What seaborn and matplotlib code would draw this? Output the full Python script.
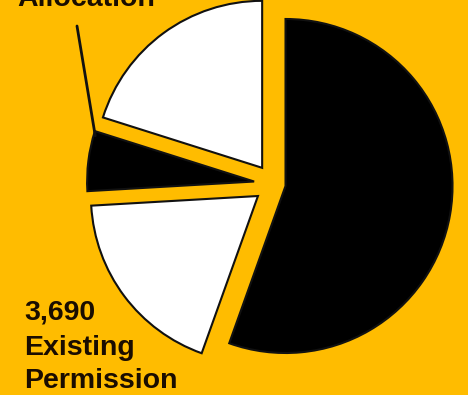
import matplotlib
matplotlib.use("Agg")
import matplotlib.pyplot as plt
import seaborn as sns
import numpy as np

# ---- data ----
categories = ["Large share", "Existing Permission", "Allocation", "Other"]
values = [11000, 3690, 1150, 3990]
slice_colors = ["#000000", "#FFFFFF", "#000000", "#FFFFFF"]
explode = [0.07, 0.12, 0.12, 0.12]
label_existing = ["3,690", "Existing", "Permission"]
label_allocation = "Allocation"

BG = "#FFBC00"
TXT = "#1a0d00"

sns.set_theme(style="white")
plt.rcParams["font.family"] = ["Liberation Sans", "DejaVu Sans"]

W, H = 468, 395
fig = plt.figure(figsize=(W / 100, H / 100), dpi=100, facecolor=BG)
ax = fig.add_axes([0, 0, 1, 1])
ax.set_facecolor(BG)

wedges, _ = ax.pie(
    values,
    colors=slice_colors,
    explode=explode,
    startangle=90,
    counterclock=False,
    radius=1.0,
    wedgeprops=dict(edgecolor="#111111", linewidth=1.5),
)

cx, cy, R = 274, 184, 167  # pie centre (px) and radius (px)
ax.set_xlim(-cx / R, (W - cx) / R)
ax.set_ylim((cy - H) / R, cy / R)
ax.set_aspect("auto")
ax.axis("off")

# labels
fs = 20.5
fig.text(17 / W, 1 - 5.5 / H, label_allocation, fontsize=fs, fontweight="bold",
         color=TXT, ha="left", va="baseline")
for line, base in zip(label_existing, [320, 355, 388]):
    fig.text(24 / W, 1 - base / H, line, fontsize=fs, fontweight="bold",
             color=TXT, ha="left", va="baseline")

# leader line from "Allocation" to the small black slice
w = wedges[2]
ang = np.deg2rad(w.theta1 + 1.5)
end = (w.center[0] + 0.99 * w.r * np.cos(ang), w.center[1] + 0.99 * w.r * np.sin(ang))
ax.annotate("", xy=end, xycoords="data",
            xytext=(77 / W, 1 - 26 / H), textcoords="figure fraction",
            arrowprops=dict(arrowstyle="-", lw=2, color="#111111",
                            shrinkA=0, shrinkB=0))

fig.savefig("out.png", dpi=100, facecolor=BG)
